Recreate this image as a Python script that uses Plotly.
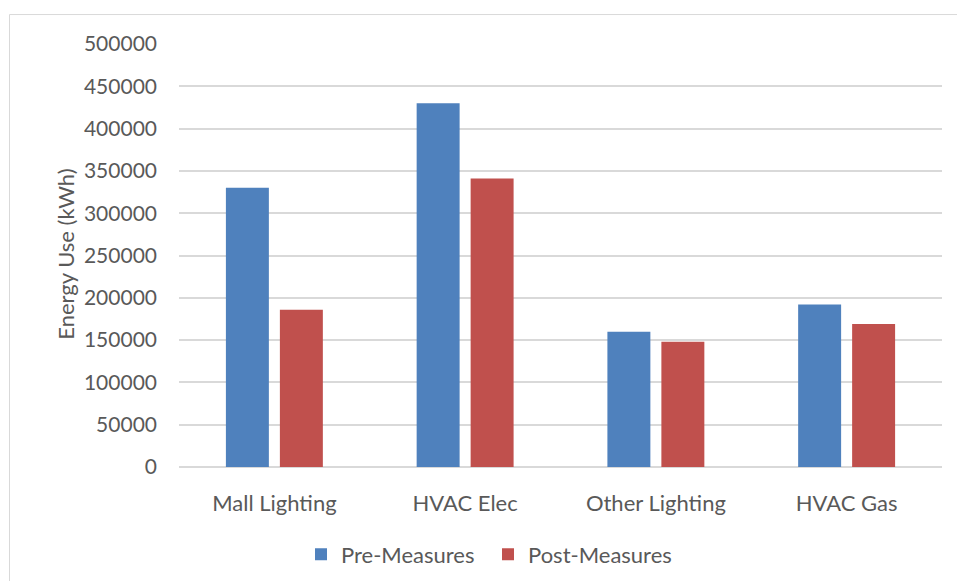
import plotly.graph_objects as go

# Energy use by end-use category, before and after efficiency measures
categories = ["Mall Lighting", "HVAC Elec", "Other Lighting", "HVAC Gas"]
pre_measures = [330000, 430000, 160000, 192000]
post_measures = [186000, 341000, 148000, 169000]
y_ticks = [0, 50000, 100000, 150000, 200000, 250000, 300000, 350000, 400000, 450000, 500000]

W, H = 957, 581
L, R, T, B = 179, 15, 44, 113.5
plot_w = W - L - R
plot_h = H - T - B

FONT = "Lato"
TXT = "#595959"
GRID = "#D9D9D9"

fig = go.Figure()
fig.add_trace(go.Bar(name="Pre-Measures", x=categories, y=pre_measures,
                     marker=dict(color="#4F81BD", line=dict(width=0))))
fig.add_trace(go.Bar(name="Post-Measures", x=categories, y=post_measures,
                     marker=dict(color="#C0504D", line=dict(width=0))))

def px_x(p):
    return (p - L) / plot_w

def px_y(p):
    return (H - B - p) / plot_h

fig.update_layout(
    width=W, height=H,
    margin=dict(l=L, r=R, t=T, b=B, pad=0, autoexpand=False),
    paper_bgcolor="white", plot_bgcolor="white",
    font=dict(family=FONT, size=22, color=TXT),
    barmode="group", bargap=0.434, bargroupgap=0.204,
    showlegend=True,
    legend=dict(orientation="h", x=px_x(301), xanchor="left",
                y=px_y(555), yanchor="middle",
                font=dict(family=FONT, size=22, color=TXT),
                entrywidth=142, entrywidthmode="pixels",
                traceorder="normal", bgcolor="rgba(0,0,0,0)"),
    xaxis=dict(showgrid=False, showline=False, zeroline=False,
               ticks="outside", ticklen=17, tickcolor="rgba(0,0,0,0)",
               tickfont=dict(family=FONT, size=22, color=TXT)),
    yaxis=dict(range=[0, 500000], tickvals=y_ticks,
               ticktext=[str(v) for v in y_ticks],
               showgrid=True, gridcolor=GRID, gridwidth=1.5,
               zeroline=True, zerolinecolor=GRID, zerolinewidth=1.5,
               showline=False, ticks="", ticklabelstandoff=21,
               tickfont=dict(family=FONT, size=21, color=TXT)),
    annotations=[dict(text="Energy Use (kWh)", textangle=-90,
                      xref="paper", yref="paper", x=px_x(66), y=px_y(255),
                      xanchor="center", yanchor="middle", showarrow=False,
                      font=dict(family=FONT, size=22, color=TXT))],
    shapes=[dict(type="rect", xref="paper", yref="paper",
                 x0=px_x(9.5), x1=px_x(W + 20), y0=px_y(H + 20), y1=px_y(14.5),
                 line=dict(color=GRID, width=1), fillcolor="rgba(0,0,0,0)",
                 layer="below")],
)

fig.write_html("out.html")
